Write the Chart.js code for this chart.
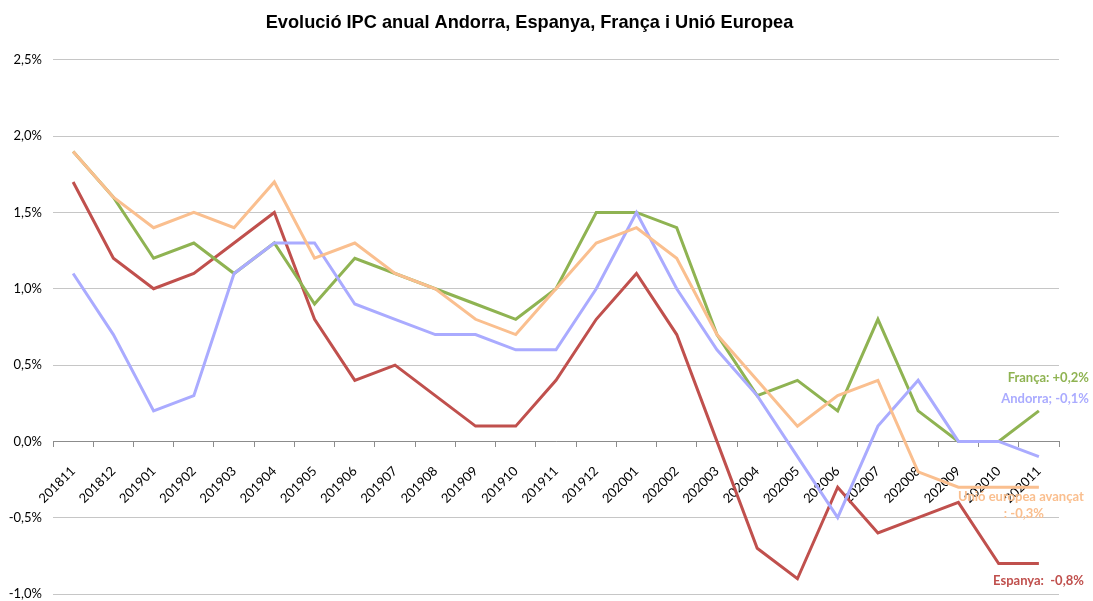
<!DOCTYPE html>
<html>
<head>
<meta charset="utf-8">
<script src="https://cdn.jsdelivr.net/npm/chart.js@4/dist/chart.umd.min.js"></script>
<style>
    html, body { margin: 0; padding: 0; background: #fff; }
    #wrap { width: 1093px; height: 601px; }
</style>
</head>
<body>
<div id="wrap"><canvas id="ipcChart" width="1093" height="601"></canvas></div>
<script>
// ==========================================
// DADES
// ==========================================
const months = ['201811', '201812', '201901', '201902', '201903', '201904', '201905', '201906', '201907',
    '201908', '201909', '201910', '201911', '201912', '202001', '202002', '202003', '202004', '202005',
    '202006', '202007', '202008', '202009', '202010', '202011'];

const franca  = [1.9, 1.6, 1.2, 1.3, 1.1, 1.3, 0.9, 1.2, 1.1, 1.0, 0.9, 0.8, 1.0, 1.5, 1.5, 1.4, 0.7, 0.3, 0.4, 0.2, 0.8, 0.2, 0.0, 0.0, 0.2];
const ue      = [1.9, 1.6, 1.4, 1.5, 1.4, 1.7, 1.2, 1.3, 1.1, 1.0, 0.8, 0.7, 1.0, 1.3, 1.4, 1.2, 0.7, 0.4, 0.1, 0.3, 0.4, -0.2, -0.3, -0.3, -0.3];
const andorra = [1.1, 0.7, 0.2, 0.3, 1.1, 1.3, 1.3, 0.9, 0.8, 0.7, 0.7, 0.6, 0.6, 1.0, 1.5, 1.0, 0.6, 0.3, -0.1, -0.5, 0.1, 0.4, 0.0, 0.0, -0.1];
const espanya = [1.7, 1.2, 1.0, 1.1, 1.3, 1.5, 0.8, 0.4, 0.5, 0.3, 0.1, 0.1, 0.4, 0.8, 1.1, 0.7, 0.0, -0.7, -0.9, -0.3, -0.6, -0.5, -0.4, -0.8, -0.8];

const yTicks = [-1.0, -0.5, 0.0, 0.5, 1.0, 1.5, 2.0, 2.5];

// etiquetes al final de cada serie (align: on s'ancora el text)
const endLabels = [
    { ds: 0, lines: ['Unió europea avançat', ': -0,3%'], align: 'center', dx: [-18, -15], dy: [10, 27] },
    { ds: 1, lines: ['Andorra; -0,1%'], align: 'right', dx: [50], dy: [-58] },
    { ds: 2, lines: ['França: +0,2%'], align: 'right', dx: [50], dy: [-33] },
    { ds: 3, lines: ['Espanya:  -0,8%'], align: 'right', dx: [45], dy: [17] }
];

const colors = {
    ue: '#fabf8f',
    andorra: '#aaabff',
    franca: '#8fb352',
    espanya: '#c0504d'
};

// ==========================================
// PLUGIN ETIQUETES
// ==========================================
const endLabelPlugin = {
    id: 'endLabels',
    afterDatasetsDraw(chart) {
        const ctx = chart.ctx;
        ctx.save();
        ctx.font = 'bold 13px Lato';
        ctx.textBaseline = 'middle';
        endLabels.forEach(lbl => {
            const meta = chart.getDatasetMeta(lbl.ds);
            const last = meta.data[meta.data.length - 1];
            ctx.fillStyle = chart.data.datasets[lbl.ds].borderColor;
            ctx.textAlign = lbl.align;
            lbl.lines.forEach((t, i) => {
                ctx.fillText(t, last.x + lbl.dx[i], last.y + lbl.dy[i]);
            });
        });
        ctx.restore();
    }
};

// ==========================================
// GRÀFIC
// ==========================================
const ctx = document.getElementById('ipcChart').getContext('2d');
new Chart(ctx, {
    type: 'line',
    data: {
        labels: months,
        datasets: [
            { label: 'Unió europea avançat', data: ue, borderColor: colors.ue },
            { label: 'Andorra', data: andorra, borderColor: colors.andorra },
            { label: 'França', data: franca, borderColor: colors.franca },
            { label: 'Espanya', data: espanya, borderColor: colors.espanya }
        ].map(d => Object.assign(d, { borderWidth: 3, pointRadius: 0, tension: 0, fill: false }))
    },
    options: {
        responsive: false,
        animation: false,
        layout: { padding: { left: 0, right: 34, top: 0, bottom: 7 } },
        plugins: {
            legend: { display: false },
            tooltip: { enabled: false },
            title: {
                display: true,
                text: 'Evolució IPC anual Andorra, Espanya, França i Unió Europea',
                color: '#000',
                font: { family: 'Liberation Sans', size: 18.2, weight: 'bold' },
                padding: { top: 12, bottom: 26 }
            }
        },
        scales: {
            x: {
                position: { y: 0 },
                offset: true,
                afterFit(scale) {
                    scale.height = 0;
                    scale.paddingTop = 0;
                    scale.paddingBottom = 0;
                },
                grid: { offset: true, drawOnChartArea: false, color: '#8c8c8c', tickLength: 5 },
                border: { color: '#8c8c8c', width: 1 },
                ticks: {
                    autoSkip: false,
                    maxRotation: 45,
                    minRotation: 45,
                    padding: 17,
                    labelOffset: 0,
                    color: '#000',
                    font: { family: 'Lato', size: 13 }
                }
            },
            y: {
                min: -1.0,
                max: 2.5,
                afterFit(scale) {
                    scale.width = 53;
                    scale.paddingTop = 0;
                    scale.paddingBottom = 0;
                },
                afterBuildTicks(scale) { scale.ticks = yTicks.map(v => ({ value: v })); },
                grid: { color: '#c6c6c6', drawTicks: false },
                border: { display: false },
                ticks: {
                    padding: 11,
                    color: '#000',
                    font: { family: 'Lato', size: 13 },
                    callback: v => v.toFixed(1).replace('.', ',') + '%'
                }
            }
        }
    },
    plugins: [endLabelPlugin]
});
</script>
</body>
</html>
